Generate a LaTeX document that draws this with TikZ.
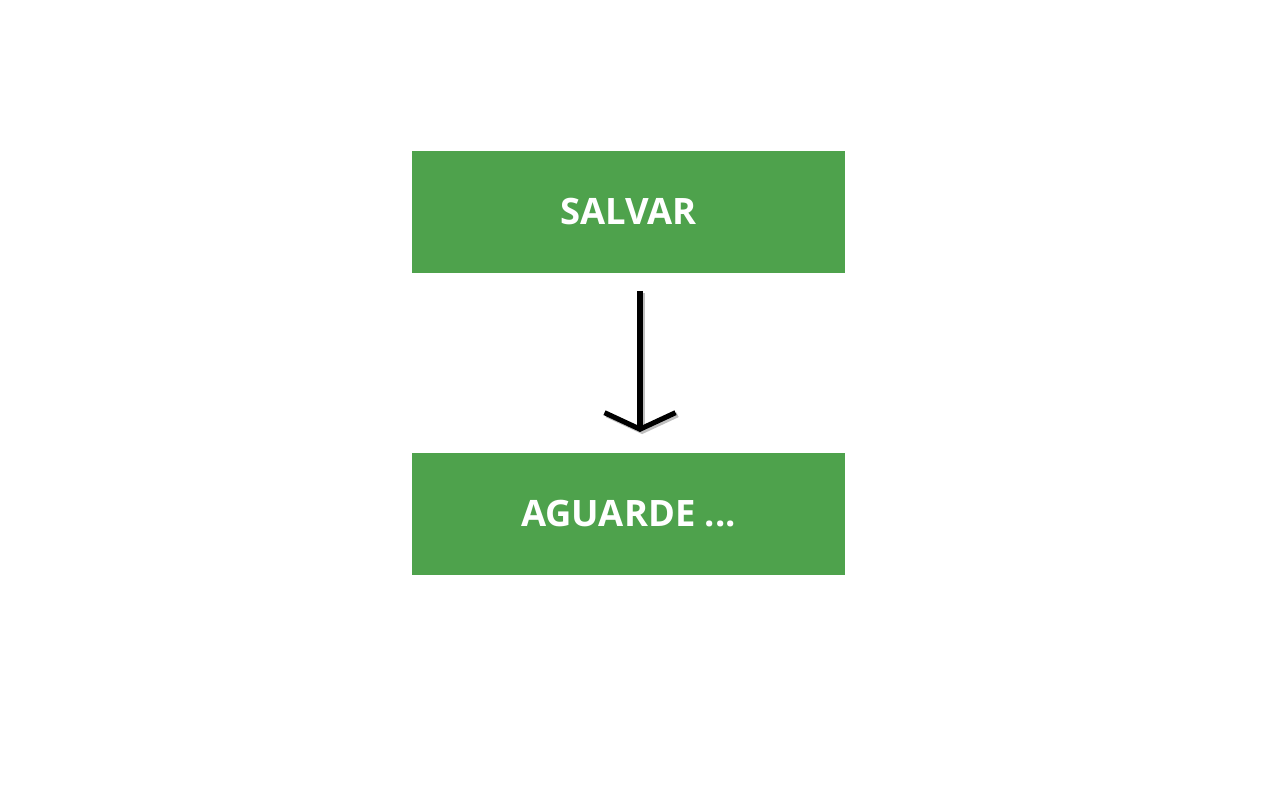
\documentclass[tikz,border=0pt]{standalone}
\usepackage{fontspec}
\setmainfont{Open Sans}
\usepackage{tikz}
\usetikzlibrary{arrows.meta}
\definecolor{boxgreen}{HTML}{4EA24C}

\begin{document}
\begin{tikzpicture}[
    greenbox/.style={fill=boxgreen, minimum width=4.33cm, minimum height=1.22cm, inner sep=0pt,
        text=white, font=\fontsize{10.35}{12}\selectfont\bfseries},
    flowarrow/.style={line width=1.45pt, -{Straight Barb[length=0.165cm, width=0.71cm, line width=1.45pt]}}
  ]
    \useasboundingbox (0,0) rectangle (12.8,8);
    \node[greenbox] (salvar) at (6.285,5.88) {SALVAR};
    \node[greenbox] (aguarde) at (6.285,2.86) {AGUARDE ...};
    % arrow sits a bit right of the box centre
    \coordinate (start) at (6.40,5.09);
    \coordinate (tip) at (6.40,3.68);
    \draw[flowarrow, black!25, transform canvas={xshift=0.6pt, yshift=-0.6pt}] (start) -- (tip);
    \draw[flowarrow] (start) -- (tip);
\end{tikzpicture}
\end{document}
